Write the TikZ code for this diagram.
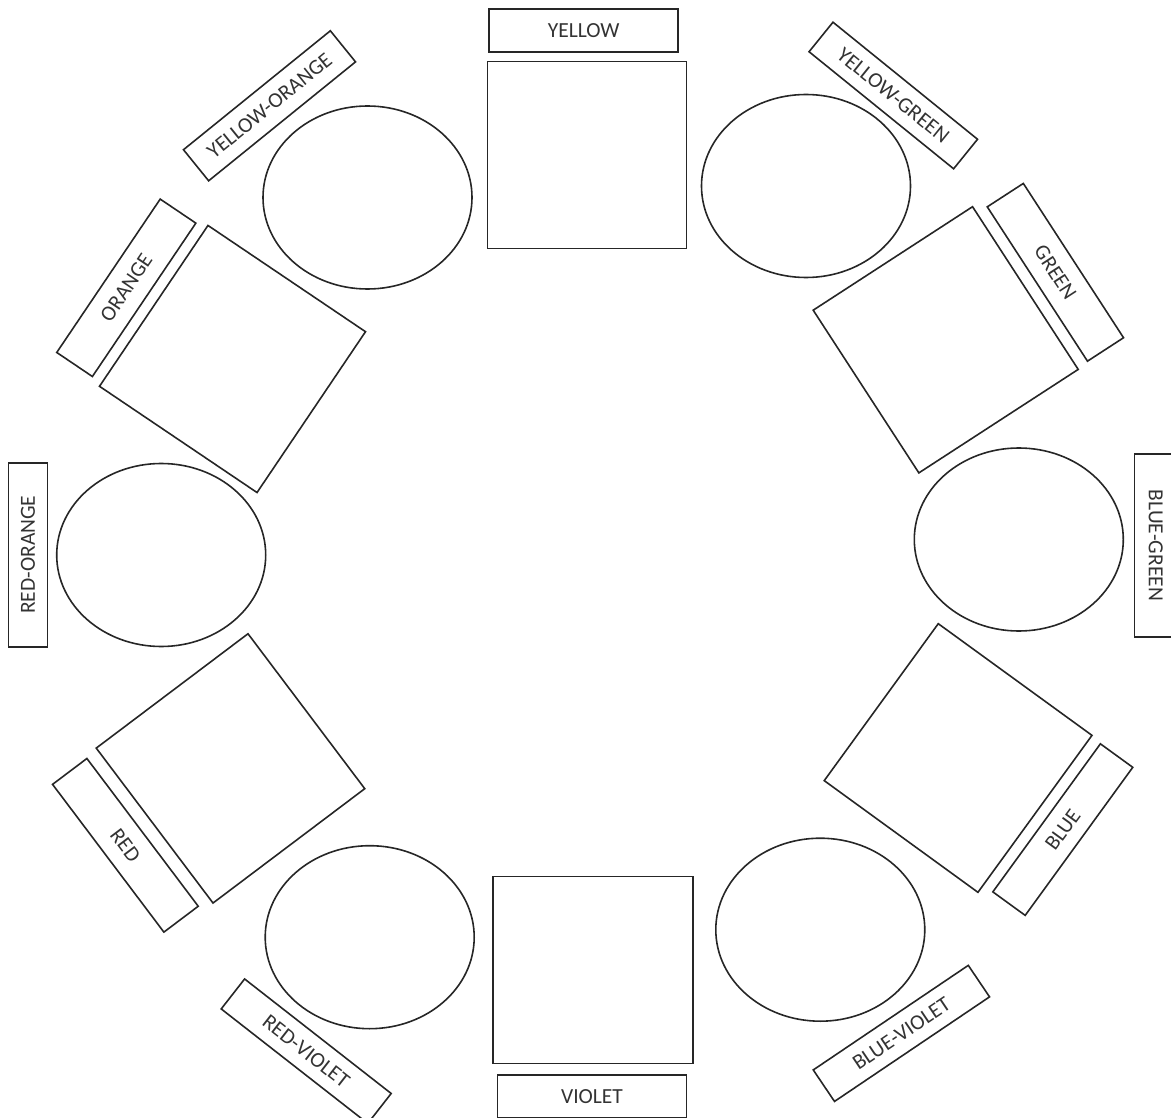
\documentclass[tikz,border=0pt]{standalone}
\usepackage{fontspec}
\setmainfont{Carlito}
\usepackage{tikz}
\usetikzlibrary{shapes.geometric}
\tikzset{
  swatch/.style={rectangle, draw=black!85, line width=1.6pt, inner sep=0pt, minimum width=194pt, minimum height=190pt},
  blend/.style={ellipse, draw=black!85, line width=1.6pt, inner sep=0pt, minimum width=209pt, minimum height=183pt},
  tag/.style={rectangle, draw=black!85, line width=1.6pt, inner sep=0pt, minimum width=186pt, minimum height=41pt, text=black!80, font=\fontsize{21.5}{25}\selectfont}
}

\begin{document}
\begin{tikzpicture}[x=1pt, y=-1pt]
\useasboundingbox (0,0) rectangle (1171,1118);

% primary and secondary
\node[swatch, minimum width=199pt, minimum height=187pt] (yellow) at (587,155) {};
\node[swatch, rotate=-57] (green) at (945.7,339.8) {};
\node[swatch, rotate=54] (blue) at (958.1,758) {};
\node[swatch, minimum width=200pt, minimum height=187pt] (violet) at (592.7,970) {};
\node[swatch, rotate=-53] (red) at (230.5,768.4) {};
\node[swatch, rotate=56] (orange) at (232.5,359) {};

% tertiary
\node[blend] (yelloworange) at (367.5,197.5) {};
\node[blend] (yellowgreen) at (806,186) {};
\node[blend] (bluegreen) at (1018.8,539.5) {};
\node[blend] (blueviolet) at (820.3,929.7) {};
\node[blend] (redviolet) at (369.7,937.2) {};
\node[blend] (redorange) at (161.2,555) {};

% labels
\node[tag, minimum width=189pt, minimum height=43pt] (yellowtag) at (583.7,30.8) {YELLOW};
\node[tag, rotate=-39, minimum height=38pt] (yellowgreentag) at (893.3,95.5) {YELLOW-GREEN};
\node[tag, rotate=-57, minimum width=184pt, minimum height=43pt] (greentag) at (1055.4,272.3) {GREEN};
\node[tag, rotate=-90, minimum width=183pt, minimum height=43pt] (bluegreentag) at (1155.8,545.4) {BLUE-GREEN};
\node[tag, rotate=54, minimum width=183pt, minimum height=40pt] (bluetag) at (1062.8,829.6) {BLUE};
\node[tag, rotate=34, minimum width=187pt, minimum height=38pt] (bluevioletag) at (901.4,1033.4) {BLUE-VIOLET};
\node[tag, minimum width=189pt, minimum height=43pt] (violettag) at (592,1096.5) {VIOLET};
\node[tag, rotate=-38, minimum height=38pt] (redviolettag) at (306.2,1051.2) {RED-VIOLET};
\node[tag, rotate=-53, minimum width=185pt, minimum height=43pt] (redtag) at (125.4,845.3) {RED};
\node[tag, rotate=90, minimum width=184pt, minimum height=39pt] (redorangetag) at (28,554.7) {RED-ORANGE};
\node[tag, rotate=56, minimum width=185pt, minimum height=43pt] (orangetag) at (126.3,287.8) {ORANGE};
\node[tag, rotate=39, minimum width=189pt, minimum height=40pt] (yelloworangetag) at (269.5,105.8) {YELLOW-ORANGE};
\end{tikzpicture}
\end{document}
